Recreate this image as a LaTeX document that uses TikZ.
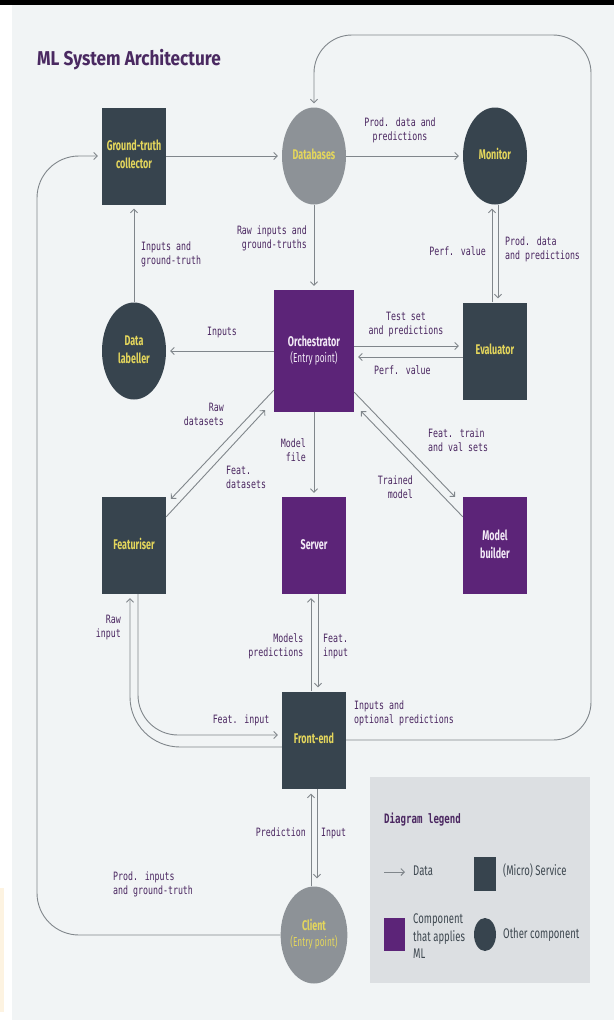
\documentclass[tikz,border=0pt]{standalone}
\usepackage{graphicx}
\usepackage{fontspec}
\setmainfont{Fira Sans}
\newfontfamily\monof{DejaVu Sans Mono}
\usetikzlibrary{shapes.geometric,arrows.meta}
\definecolor{bgc}{HTML}{F1F4F5}
\definecolor{svcc}{HTML}{37444E}
\definecolor{mlpc}{HTML}{5C2478}
\definecolor{gryc}{HTML}{8D9297}
\definecolor{ylw}{HTML}{E4D65C}
\definecolor{wtxt}{HTML}{F2EAF6}
\definecolor{labc}{HTML}{4A2660}
\definecolor{titc}{HTML}{4A2961}
\definecolor{linec}{HTML}{80868B}
\definecolor{legc}{HTML}{DCDFE2}
\definecolor{legt}{HTML}{3E4850}
\definecolor{cream}{HTML}{FDF3E1}
\newcommand\nodetxt[1]{\scalebox{0.64}[1]{\begin{tabular}{@{}c@{}}#1\end{tabular}}}
\newcommand\lablft[1]{\scalebox{0.72}[1]{\begin{tabular}{@{}l@{}}#1\end{tabular}}}
\newcommand\labrgt[1]{\scalebox{0.72}[1]{\begin{tabular}{@{}r@{}}#1\end{tabular}}}
\newcommand\labctr[1]{\scalebox{0.72}[1]{\begin{tabular}{@{}c@{}}#1\end{tabular}}}
\newcommand\legtxt[1]{\scalebox{0.68}[1]{\begin{tabular}{@{}l@{}}#1\end{tabular}}}
\begin{document}
\begin{tikzpicture}[x=1pt,y=-1pt,
  svc/.style={rectangle, fill=svcc, minimum width=64pt, minimum height=97pt, inner sep=0pt, text=ylw, font=\fontsize{14}{18}\selectfont\bfseries},
  mlc/.style={svc, fill=mlpc, text=wtxt},
  oth/.style={ellipse, fill=svcc, minimum width=64pt, minimum height=97pt, inner sep=0pt, text=ylw, font=\fontsize{14}{18}\selectfont\bfseries},
  gry/.style={oth, fill=gryc},
  lab/.style={font=\monof\fontsize{11.5}{14}\selectfont, text=labc, inner sep=0pt},
  lgt/.style={font=\fontsize{14}{17.5}\selectfont, text=legt, inner sep=0pt},
  conn/.style={draw=linec, line width=0.9pt},
  arr/.style={conn, -{Straight Barb[length=3.5pt,width=7pt]}, shorten >=4pt}
]
\useasboundingbox (0,0) rectangle (614,1020);
\fill[white] (0,0) rectangle (614,1020);
\fill[bgc] (12,0) rectangle (614,1020);
\fill[black] (0,0) rectangle (614,5);
\fill[cream] (0,888) rectangle (4,1012);

% title
\node[anchor=base west, inner sep=0pt, text=titc, font=\fontsize{20}{24}\selectfont\bfseries] (title) at (37,65) {\scalebox{0.86}[1]{ML System Architecture}};

% components
\node[svc] (gt) at (134,156) {\nodetxt{Ground-truth\\collector}};
\node[gry] (db) at (314,156) {\nodetxt{Databases}};
\node[oth] (mon) at (495,156) {\nodetxt{Monitor}};
\node[oth] (dl) at (134,351) {\nodetxt{Data\\labeller}};
\node[mlc, minimum width=80pt, minimum height=122pt, font=\fontsize{14}{16}\selectfont\bfseries] (orch) at (314,351) {\nodetxt{Orchestrator\\{\mdseries\fontsize{13}{15}\selectfont (Entry point)}}};
\node[svc] (ev) at (495,351) {\nodetxt{Evaluator}};
\node[svc] (feat) at (134,545.5) {\nodetxt{Featuriser}};
\node[mlc] (srv) at (314,545.5) {\nodetxt{Server}};
\node[mlc] (mb) at (495,545.5) {\nodetxt{Model\\builder}};
\node[svc] (fe) at (314,740) {\nodetxt{Front-end}};
\node[gry, font=\fontsize{14}{16}\selectfont\bfseries] (cl) at (314,935) {\nodetxt{Client\\{\mdseries\fontsize{13}{15}\selectfont (Entry point)}}};

% helper coordinates for loops
\coordinate (lx) at (37,500);
\coordinate (rx) at (591,400);
\coordinate (ty) at (450,35);

% connectors
\draw[arr, rounded corners=42pt] (cl.west) -| (lx) |- (gt.west);
\draw[arr, rounded corners=38pt] (fe.east) -| (rx) |- (ty) -| (db.north);
\draw[arr] (gt.east) -- (db.west);
\draw[arr] (db.east) -- (mon.west);
\draw[arr] (db.south) -- (orch.north);
\draw[arr] (dl.north) -- (gt.south);
\draw[arr] (orch.west) -- (dl.east);
\draw[arr] ([yshift=5pt]orch.east) -- ([yshift=5pt]ev.west);
\draw[arr] ([yshift=-6pt]ev.west) -- ([yshift=-6pt]orch.east);
\draw[arr] ([xshift=-3pt]ev.north) -- ([xshift=-3pt]mon.south);
\draw[arr] ([xshift=3pt]mon.south) -- ([xshift=3pt]ev.north);
\draw[arr] ([yshift=22pt]orch.south west) -- ([xshift=2pt,yshift=-5pt]feat.north east);
\draw[arr] ([yshift=-20pt]feat.north east) -- ([xshift=-6pt,yshift=5pt]orch.south west);
\draw[arr] ([yshift=20pt]orch.south east) -- ([xshift=-5pt,yshift=-3pt]mb.north west);
\draw[arr] ([yshift=-20pt]mb.north west) -- ([xshift=4pt,yshift=4pt]orch.south east);
\draw[arr] (orch.south) -- (srv.north);
\draw[arr] ([xshift=-3pt]fe.north) -- ([xshift=-3pt]srv.south);
\draw[arr] ([xshift=4pt]srv.south) -- ([xshift=4pt]fe.north);
\draw[arr, rounded corners=50pt] ([yshift=-7pt]fe.west) -| ([xshift=-4pt]feat.south);
\draw[arr, rounded corners=40pt] ([xshift=4pt]feat.south) |- ([yshift=5pt]fe.west);
\draw[arr, shorten >=5pt] ([xshift=-3pt]cl.north) -- ([xshift=-3pt]fe.south);
\draw[arr, shorten >=8pt] ([xshift=3pt]fe.south) -- ([xshift=3pt]cl.north);

% labels
\node[lab] (l1) at (400,131) {\labctr{Prod. data and\\predictions}};
\node[lab, anchor=east] (l2) at (307,239) {\labrgt{Raw inputs and\\ground-truths}};
\node[lab, anchor=west] (l3) at (141,255) {\lablft{Inputs and\\ground-truth}};
\node[lab] (l4) at (222,333) {\labctr{Inputs}};
\node[lab] (l5) at (406,324.5) {\labctr{Test set\\and predictions}};
\node[lab, anchor=west] (l6) at (374,372) {\lablft{Perf. value}};
\node[lab, anchor=east] (l7) at (486,253) {\labrgt{Perf. value}};
\node[lab, anchor=west] (l8) at (505,250) {\lablft{Prod. data\\and predictions}};
\node[lab, anchor=east] (l9) at (224,415.5) {\labrgt{Raw\\datasets}};
\node[lab, anchor=west] (l10) at (226,479) {\lablft{Feat.\\datasets}};
\node[lab, anchor=east] (l11) at (306,451.5) {\labrgt{Model\\file}};
\node[lab, anchor=west] (l12) at (428,441.5) {\lablft{Feat. train\\and val sets}};
\node[lab, anchor=east] (l13) at (413,489) {\labrgt{Trained\\model}};
\node[lab, anchor=east] (l14) at (121,627.5) {\labrgt{Raw\\input}};
\node[lab, anchor=east] (l15) at (303.5,646.5) {\labrgt{Models\\predictions}};
\node[lab, anchor=west] (l16) at (323,646.5) {\lablft{Feat.\\input}};
\node[lab] (l17) at (241,721) {\labctr{Feat. input}};
\node[lab, anchor=west] (l18) at (354,714) {\lablft{Inputs and\\optional predictions}};
\node[lab, anchor=east] (l19) at (306,834) {\labrgt{Prediction}};
\node[lab, anchor=west] (l20) at (321,834) {\lablft{Input}};
\node[lab, anchor=west] (l21) at (113,884.5) {\lablft{Prod. inputs\\and ground-truth}};

% legend
\node[fill=legc, inner sep=0pt, minimum width=220pt, minimum height=206pt, anchor=north west] (legend) at (370,777) {};
\node[lab, anchor=west, font=\monof\fontsize{13}{15}\selectfont\bfseries] (legtitle) at (384,820) {\scalebox{0.7}[1]{Diagram legend}};
\coordinate (la1) at (384,872);
\coordinate (la2) at (405,872);
\draw[conn, -{Straight Barb[length=3.5pt,width=7pt]}] (la1) -- (la2);
\node[lgt, anchor=west] (ldata) at (413,872) {\legtxt{Data}};
\node[fill=svcc, inner sep=0pt, minimum width=22pt, minimum height=34pt] (lsvc) at (485,874) {};
\node[lgt, anchor=west] (lsvct) at (503,872) {\legtxt{(Micro) Service}};
\node[fill=mlpc, inner sep=0pt, minimum width=21pt, minimum height=33pt] (lml) at (394.5,934.5) {};
\node[lgt, anchor=west] (lmlt) at (413,937.5) {\legtxt{Component\\that applies\\ML}};
\node[ellipse, fill=svcc, inner sep=0pt, minimum width=22pt, minimum height=33pt] (loth) at (485,934.5) {};
\node[lgt, anchor=west] (lotht) at (503,935) {\legtxt{Other component}};
\end{tikzpicture}
\end{document}
